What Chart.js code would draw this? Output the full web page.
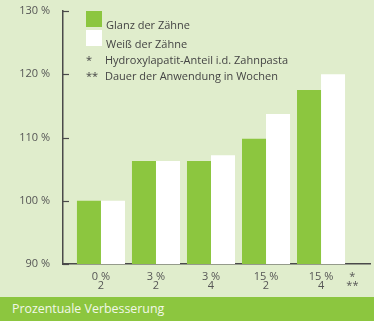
<!DOCTYPE html>
<html>
<head>
<meta charset="utf-8">
<script src="https://cdn.jsdelivr.net/npm/chart.js@4/dist/chart.umd.min.js"></script>
<style>
  html, body { margin: 0; padding: 0; }
  body { width: 374px; height: 321px; background: #e0edcc; font-family: "Open Sans", sans-serif; overflow: hidden; position: relative; }
  #wrap { position: absolute; left: 0; top: 0; width: 374px; height: 297px; }
  #legend { position: absolute; left: 86px; top: 11px; font-size: 11px; color: #444; line-height: 1; }
  #legend .row { position: relative; height: 16px; }
  #legend .box { position: absolute; left: 0; width: 16px; height: 16px; }
  #legend .txt { position: absolute; left: 20px; top: 8px; white-space: nowrap; }
  #legend .star { position: absolute; left: 0; top: 0; }
  #legend .note { position: absolute; left: 19px; top: 0; white-space: nowrap; }
  #banner { position: absolute; left: 0; top: 297px; width: 374px; height: 24px; background: #8cc63f; color: #f2f8e8; font-size: 12.4px; line-height: 24px; padding-left: 12px; box-sizing: border-box; }
</style>
</head>
<body>
<div id="wrap"><canvas id="chart" width="374" height="297"></canvas></div>
<div id="legend"></div>
<div id="banner">Prozentuale Verbesserung</div>
<script>
const shares = ['0 %', '3 %', '3 %', '15 %', '15 %'];
const weeks = ['2', '2', '4', '2', '4'];
const glanz = [100, 106.3, 106.3, 109.8, 117.5];
const weiss = [100, 106.3, 107.2, 113.7, 120];
const yTicks = [90, 100, 110, 120, 130];
const seriesNames = ['Glanz der Zähne', 'Weiß der Zähne'];
const footnotes = [['*', 'Hydroxylapatit-Anteil i.d. Zahnpasta'], ['**', 'Dauer der Anwendung in Wochen']];

const green = '#8cc63f';
const axisColor = '#4a4a4a';
const labelFont = '11px "Open Sans"';

// legend block (boxes + footnotes)
const legendEl = document.getElementById('legend');
let html = '';
[green, '#ffffff'].forEach((c, i) => {
    html += '<div class="row" style="height:' + (i === 0 ? 19 : 17) + 'px"><div class="box" style="background:' + c + '"></div><div class="txt">' + seriesNames[i] + '</div></div>';
});
html += '<div style="height:7px"></div>';
footnotes.forEach(f => {
    html += '<div class="row"><span class="star">' + f[0] + '</span><span class="note">' + f[1] + '</span></div>';
});
legendEl.innerHTML = html;

// inward y tick marks + the "*" / "**" row keys after the last group
const extras = {
    id: 'extras',
    afterDraw(chart) {
        const ctx = chart.ctx;
        const y = chart.scales.y;
        const x = chart.scales.x;
        ctx.save();
        ctx.strokeStyle = axisColor;
        ctx.lineWidth = 1.2;
        yTicks.forEach(v => {
            const py = Math.round(y.getPixelForValue(v)) + 0.5;
            ctx.beginPath();
            ctx.moveTo(y.right, py);
            ctx.lineTo(y.right + 6, py);
            ctx.stroke();
        });
        const kx = x.getPixelForValue(shares.length + 0.57);
        ctx.fillStyle = '#555';
        ctx.font = labelFont;
        ctx.textAlign = 'center';
        ctx.textBaseline = 'middle';
        ctx.fillText(footnotes[0][0], kx, x.top + 13);
        ctx.fillText(footnotes[1][0], kx, x.top + 22);
        ctx.restore();
    }
};

new Chart(document.getElementById('chart'), {
    type: 'bar',
    data: {
        datasets: [
            { label: seriesNames[0], data: glanz.map((v, i) => ({ x: i + 1, y: v })), backgroundColor: green },
            { label: seriesNames[1], data: weiss.map((v, i) => ({ x: i + 1, y: v })), backgroundColor: '#ffffff' }
        ]
    },
    options: {
        responsive: false,
        animation: false,
        events: [],
        categoryPercentage: 0.873,
        barPercentage: 1,
        layout: { padding: { top: 11, right: 4, left: 0, bottom: 0 } },
        plugins: { legend: { display: false }, tooltip: { enabled: false } },
        scales: {
            x: {
                type: 'linear',
                offset: false,
                bounds: 'data',
                min: 0.31,
                max: 5.89,
                afterBuildTicks(scale) {
                    scale.ticks = shares.map((s, i) => ({ value: i + 1 }));
                },
                afterFit(scale) {
                    scale.height = 33;
                    scale.paddingLeft = 0;
                    scale.paddingRight = 0;
                },
                grid: { display: false, drawTicks: false, offset: false },
                border: { display: true, color: axisColor, width: 1.5 },
                ticks: {
                    autoSkip: false,
                    maxRotation: 0,
                    padding: 8,
                    color: '#555',
                    font: { family: 'Open Sans', size: 11, lineHeight: 0.82 },
                    callback(value) {
                        const i = Math.round(value) - 1;
                        return [shares[i], weeks[i]];
                    }
                }
            },
            y: {
                min: 90,
                max: 130,
                afterBuildTicks(scale) { scale.ticks = yTicks.map(v => ({ value: v })); },
                afterFit(scale) {
                    scale.width = 63;
                    scale.paddingTop = 0;
                    scale.paddingBottom = 0;
                },
                grid: { display: false, drawTicks: false },
                border: { display: true, color: axisColor, width: 1.5 },
                ticks: {
                    padding: 13,
                    color: '#555',
                    font: { family: 'Open Sans', size: 11 },
                    callback: v => v + ' %'
                }
            }
        }
    },
    plugins: [extras]
});
</script>
</body>
</html>
